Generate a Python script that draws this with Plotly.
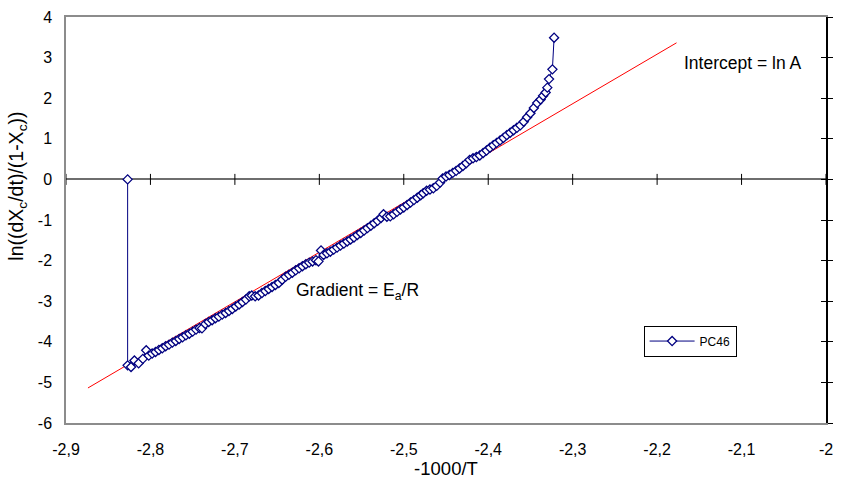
import plotly.graph_objects as go

# ---- data ----
pc46_x = [-2.827, -2.827, -2.823, -2.819, -2.814, -2.809, -2.805,
          -2.802, -2.798, -2.794, -2.790, -2.786, -2.782, -2.778, -2.774, -2.770, -2.766,
          -2.762, -2.758, -2.754, -2.750, -2.746, -2.742, -2.739, -2.735, -2.731, -2.727,
          -2.723, -2.719, -2.715, -2.711, -2.707, -2.703, -2.699, -2.695, -2.691, -2.687,
          -2.683, -2.680, -2.676, -2.672, -2.668, -2.664, -2.660, -2.656, -2.652, -2.648,
          -2.644, -2.640, -2.636, -2.632, -2.628, -2.624, -2.620, -2.616, -2.612, -2.608,
          -2.604, -2.601, -2.598, -2.595, -2.591, -2.587, -2.583, -2.579, -2.575, -2.571,
          -2.567, -2.563, -2.559, -2.555, -2.551, -2.547, -2.543, -2.539, -2.535, -2.531,
          -2.527, -2.524, -2.520, -2.516, -2.512, -2.508, -2.504, -2.500, -2.496, -2.492,
          -2.488, -2.484, -2.480, -2.477, -2.473, -2.469, -2.465, -2.461, -2.457, -2.454,
          -2.450, -2.446, -2.442, -2.438, -2.434, -2.430, -2.426, -2.422, -2.418, -2.414,
          -2.410, -2.406, -2.402, -2.398, -2.394, -2.390, -2.386, -2.382, -2.378, -2.374,
          -2.370, -2.366, -2.362, -2.358, -2.354, -2.350, -2.346, -2.342, -2.338, -2.335,
          -2.332, -2.330, -2.328, -2.324, -2.322]
pc46_y = [0.00, -4.58, -4.62, -4.46, -4.53, -4.42, -4.21,
          -4.34, -4.29, -4.25, -4.20, -4.16, -4.11, -4.07, -4.02, -3.98, -3.93,
          -3.89, -3.84, -3.80, -3.75, -3.70, -3.66, -3.67, -3.56, -3.51, -3.47,
          -3.42, -3.38, -3.33, -3.29, -3.24, -3.19, -3.13, -3.08, -3.02, -2.96,
          -2.88, -2.86, -2.88, -2.86, -2.80, -2.75, -2.70, -2.65, -2.60, -2.55,
          -2.47, -2.40, -2.35, -2.30, -2.24, -2.19, -2.14, -2.09, -2.05, -2.02,
          -1.99, -2.02, -1.75, -1.86, -1.82, -1.78, -1.73, -1.68, -1.63, -1.58,
          -1.53, -1.48, -1.43, -1.37, -1.32, -1.26, -1.20, -1.14, -1.08, -1.02,
          -0.95, -0.86, -0.92, -0.91, -0.86, -0.80, -0.74, -0.69, -0.63, -0.57,
          -0.51, -0.45, -0.39, -0.34, -0.28, -0.25, -0.22, -0.16, -0.08, 0.02,
          0.07, 0.11, 0.16, 0.21, 0.27, 0.33, 0.40, 0.48, 0.52, 0.55,
          0.59, 0.65, 0.71, 0.78, 0.84, 0.90, 0.96, 1.02, 1.09, 1.15,
          1.21, 1.27, 1.33, 1.42, 1.53, 1.63, 1.76, 1.88, 1.97, 2.06,
          2.14, 2.26, 2.47, 2.71, 3.49]

fit_x = [-2.874, -2.177]
fit_y = [-5.137, 3.364]

x_tickvals = [-2.9, -2.8, -2.7, -2.6, -2.5, -2.4, -2.3, -2.2, -2.1, -2.0]
x_ticktext = ["-2,9", "-2,8", "-2,7", "-2,6", "-2,5", "-2,4", "-2,3", "-2,2", "-2,1", "-2"]
y_tickvals = [-6, -5, -4, -3, -2, -1, 0, 1, 2, 3, 4]
y_ticktext = ["-6", "-5", "-4", "-3", "-2", "-1", "0", "1", "2", "3", "4"]

x_range = [-2.9, -2.0]
y_range = [-6, 4]
x_axis_crossing = 0  # the x axis line crosses the y axis at y = 0
series_name = "PC46"

FONT = "Liberation Sans, Arial, sans-serif"

fig = go.Figure()
fig.add_trace(go.Scatter(x=fit_x, y=fit_y, mode="lines",
                         line=dict(color="#ff0000", width=1),
                         showlegend=False, hoverinfo="skip"))
# invisible helpers so the right-hand overlay axes get drawn
for ya in ["y2", "y3"]:
    fig.add_trace(go.Scatter(x=fit_x, y=fit_y, mode="lines", xaxis="x", yaxis=ya,
                             line=dict(color="rgba(0,0,0,0)", width=0),
                             showlegend=False, hoverinfo="skip"))
fig.add_trace(go.Scatter(x=pc46_x, y=pc46_y, mode="lines+markers", name=series_name,
                         line=dict(color="#000080", width=1),
                         marker=dict(symbol="diamond", size=7, color="white",
                                     line=dict(color="#000080", width=1.3))))

# cross tick marks on the x axis line at y = 0 (positions from the axis tick values)
for t in x_tickvals:
    fig.add_shape(type="line", xref="x", yref="y", x0=t, x1=t,
                  ysizemode="pixel", yanchor=x_axis_crossing, y0=-5.5, y1=5.5,
                  line=dict(color="black", width=1), layer="above")

common_y = dict(range=y_range, tickvals=y_tickvals, showgrid=False)

fig.update_layout(
    width=842, height=487,
    margin=dict(l=66, r=9, t=14, b=64),
    paper_bgcolor="white", plot_bgcolor="white",
    font=dict(family=FONT, size=16, color="black"),
    xaxis=dict(range=x_range, tickvals=x_tickvals, ticktext=x_ticktext,
               showgrid=False, zeroline=False,
               showline=True, linecolor="#8c8c8c", linewidth=1.5, mirror=True,
               ticks="", ticklabelstandoff=11, tickfont=dict(size=16),
               title=dict(text="-1000/T", font=dict(size=18.5), standoff=2)),
    yaxis=dict(**common_y, ticktext=y_ticktext,
               zeroline=True, zerolinecolor="#6e6e6e", zerolinewidth=2,
               showline=True, linecolor="#8c8c8c", linewidth=1.5, mirror=True,
               ticks="", ticklabelstandoff=9, tickfont=dict(size=16)),
    yaxis2=dict(**common_y, overlaying="y", side="right", anchor="x", zeroline=False,
                showline=True, linecolor="black", linewidth=1.5, showticklabels=False,
                ticks="outside", ticklen=5, tickcolor="black"),
    yaxis3=dict(**common_y, overlaying="y", side="right", anchor="x", zeroline=False,
                showline=False, showticklabels=False, ticks="inside", ticklen=5,
                tickcolor="black"),
    legend=dict(x=0.760, y=0.24, xanchor="left", yanchor="top",
                bordercolor="black", borderwidth=1, bgcolor="white",
                font=dict(size=12), itemwidth=45),
    showlegend=True,
    annotations=[
        # y-axis title (placed like the reference, above the plot-area centre)
        dict(x=-0.064, y=0.583, xref="paper", yref="paper",
             text="ln((dX<sub>c</sub>/dt)/(1-X<sub>c</sub>))", textangle=-90,
             showarrow=False, xanchor="center", yanchor="middle", font=dict(size=19.5)),
        dict(x=-2.170, y=2.875, xref="x", yref="y", text="Intercept = ln A",
             showarrow=False, xanchor="left", yanchor="middle", font=dict(size=17.5)),
        dict(x=-2.630, y=-2.75, xref="x", yref="y", text="Gradient = E<sub>a</sub>/R",
             showarrow=False, xanchor="left", yanchor="middle", font=dict(size=17.5)),
    ],
)

fig.write_html("out.html")
